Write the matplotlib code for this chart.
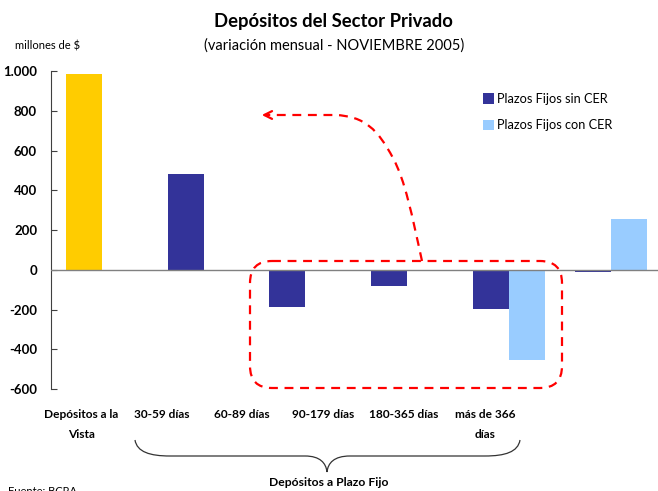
import numpy as np
import matplotlib
matplotlib.use("Agg")
import matplotlib.pyplot as plt
from matplotlib.path import Path
from matplotlib.patches import PathPatch, FancyBboxPatch, Patch

plt.rcParams['font.family'] = ['Lato', 'DejaVu Sans']

# ---- data ----
categories = ['Depósitos a la\nVista', '30-59 días', '60-89 días', '90-179 días',
              '180-365 días', 'más de 366\ndías']
vista = [985]
sin_cer = [480, -186, -80, -196, -11]       # categories 1..5
con_cer = [np.nan, np.nan, np.nan, -452, 256]
yticks = [-600, -400, -200, 0, 200, 400, 600, 800, 1000]
ytick_labels = ['-600', '-400', '-200', '0', '200', '400', '600', '800', '1.000']
series_names = ['Plazos Fijos sin CER', 'Plazos Fijos con CER']

c_vista = '#FFCC00'
c_sin = '#333399'
c_con = '#99CCFF'
red = '#FF0000'

W, H = 658, 491
fig = plt.figure(figsize=(W / 100, H / 100), dpi=100)

def fx(px):
    return px / W

def fy(py):
    return 1 - py / H

ax = fig.add_axes([fx(51), fy(389), fx(607), 318 / H])
bw = 0.354
x_pf = np.arange(1, 6)
ax.bar([0], vista, width=bw, color=c_vista, align='center', zorder=2)
ax.bar(x_pf, sin_cer, width=bw, color=c_sin, align='center', zorder=2)
ax.bar(x_pf + bw, con_cer, width=bw, color=c_con, align='center', zorder=2)
ax.axhline(0, color='#808080', lw=1.0, zorder=3)
ax.set_xlim(-0.3245, 5.644)
ax.set_ylim(-600, 1000)
ax.set_yticks(yticks)
ax.set_yticklabels(ytick_labels, fontsize=9.5, fontweight='bold')
ax.tick_params(axis='y', direction='in', length=4, pad=10, color='#404040')
ax.set_xticks([])
for s in ['top', 'right', 'bottom']:
    ax.spines[s].set_visible(False)
ax.spines['left'].set_color('#404040')
ax.patch.set_visible(False)

# overlay in pixel coordinates
ov = fig.add_axes([0, 0, 1, 1], zorder=5)
ov.set_xlim(0, W)
ov.set_ylim(H, 0)
ov.axis('off')
ov.patch.set_visible(False)

# titles
ov.text(333, 21, 'Depósitos del Sector Privado', ha='center', va='center',
        fontsize=13.3, fontweight='bold')
ov.text(334, 46, '(variación mensual - NOVIEMBRE 2005)', ha='center', va='center',
        fontsize=10.5)
ov.text(15, 46, 'millones de $', ha='left', va='center', fontsize=8)

# category labels
label_x = [81, 162, 242, 323, 404, 485]
for lx, lab in zip(label_x, categories):
    for k, ln in enumerate(lab.split('\n')):
        ov.text(lx, 415 + 20 * k, ln, ha='center', va='center',
                fontsize=8.6, fontweight='bold')

# brace
verts = [(135, 440), (137, 452), (150, 456), (170, 456),
         (305, 456), (320, 456), (326, 463), (327, 472),
         (328, 463), (334, 456), (350, 456),
         (485, 456), (505, 456), (518, 452), (520, 440)]
codes = [Path.MOVETO, Path.CURVE4, Path.CURVE4, Path.CURVE4,
         Path.LINETO, Path.CURVE4, Path.CURVE4, Path.CURVE4,
         Path.CURVE4, Path.CURVE4, Path.CURVE4,
         Path.LINETO, Path.CURVE4, Path.CURVE4, Path.CURVE4]
ov.add_patch(PathPatch(Path(verts, codes), fill=False, ec='#333333', lw=0.9))
ov.text(329, 482, 'Depósitos a Plazo Fijo', ha='center', va='center',
        fontsize=8.7, fontweight='bold')

# dashed rounded box
ov.add_patch(FancyBboxPatch((250, 261), 312, 127,
                            boxstyle='round,pad=0,rounding_size=22',
                            fill=False, ec=red, lw=1.6, ls=(0, (4, 3))))
# dashed curved arrow
av = [(422, 261), (412, 215), (405, 180), (393, 158),
      (378, 130), (365, 116), (335, 115), (268, 115)]
ac = [Path.MOVETO, Path.CURVE4, Path.CURVE4, Path.CURVE4,
      Path.CURVE4, Path.CURVE4, Path.CURVE4, Path.LINETO]
ov.add_patch(PathPatch(Path(av, ac), fill=False, ec=red, lw=1.6, ls=(0, (4, 3))))
ov.annotate('', xy=(259, 115), xytext=(272, 115),
            arrowprops=dict(arrowstyle='->', color=red, lw=1.6, mutation_scale=14))

# legend
handles = [Patch(facecolor=c_sin, edgecolor='none'), Patch(facecolor=c_con, edgecolor='none')]
fig.legend(handles, series_names, loc='upper left', bbox_to_anchor=(fx(483), fy(93)),
           frameon=False, fontsize=9.2, handlelength=0.85, handleheight=0.85,
           handletextpad=0.25, labelspacing=1.1, borderpad=0, borderaxespad=0)

ov.text(8, 486, 'Fuente: BCRA', ha='left', va='top', fontsize=8)

fig.savefig('out.png', dpi=100)
